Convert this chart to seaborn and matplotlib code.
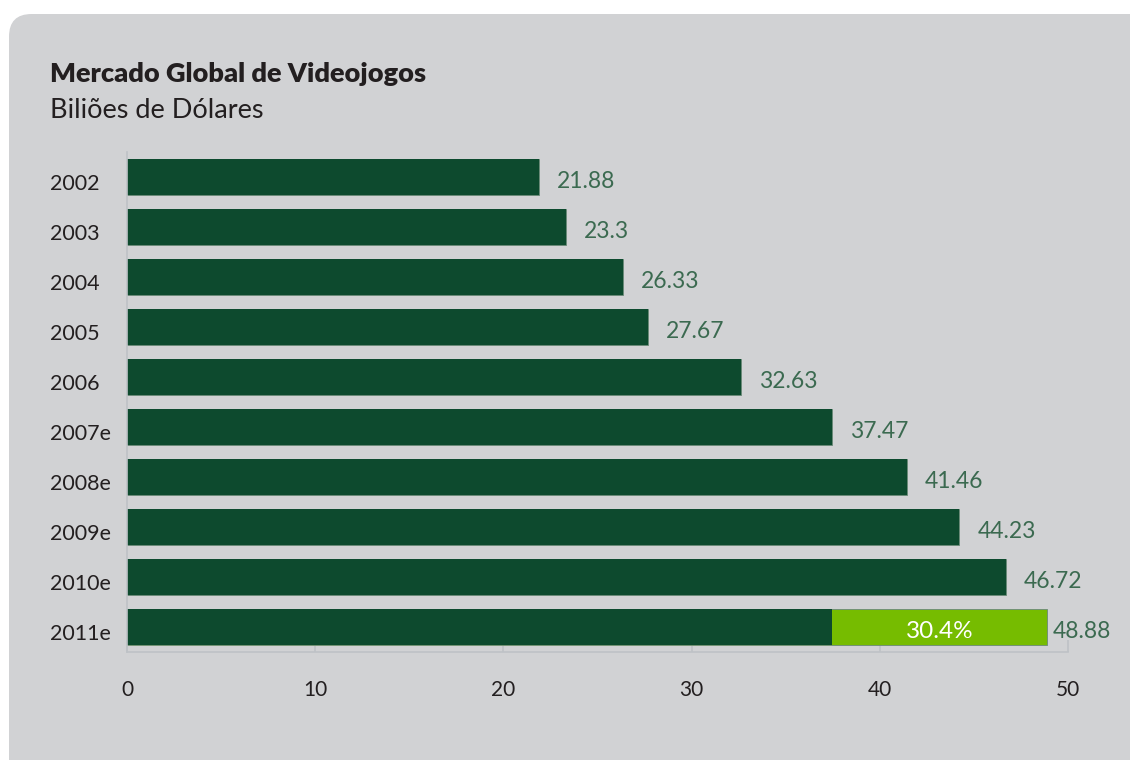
import matplotlib
matplotlib.use("Agg")
import matplotlib.pyplot as plt
from matplotlib.patches import FancyBboxPatch
from matplotlib.transforms import ScaledTranslation
import seaborn as sns
import pandas as pd

# Global video game market, billions of dollars
years = ["2002", "2003", "2004", "2005", "2006",
         "2007e", "2008e", "2009e", "2010e", "2011e"]
values = [21.88, 23.3, 26.33, 27.67, 32.63,
          37.47, 41.46, 44.23, 46.72, 48.88]
growth_from = "2007e"        # growth 2007e -> 2011e shown on the last bar
growth_label = "30.4%"
x_ticks = [0, 10, 20, 30, 40, 50]

DARK = "#0d4a2e"
LIGHT = "#76bc00"
PANEL = "#d1d2d4"
VALUE_TXT = "#3b6a50"
INK = "#231f20"
AXIS = "#bec2c6"

sns.set_theme(style="white")
plt.rcParams["font.family"] = ["Lato", "DejaVu Sans"]

base = values[years.index(growth_from)]
df = pd.DataFrame({"year": years, "value": values})
df["dark"] = [v if y != years[-1] else base for y, v in zip(years, values)]

fig = plt.figure(figsize=(11.3, 7.6), dpi=100)
fig.patch.set_facecolor("white")

# rounded grey panel, only its top-left corner falls inside the canvas
W, H = 1130, 760
panel = FancyBboxPatch((9 / W, -0.05), 1.2, (H - 14) / H + 0.05,
                       boxstyle="round,pad=0,rounding_size=0.02",
                       transform=fig.transFigure, facecolor=PANEL,
                       edgecolor="none", zorder=-10,
                       mutation_aspect=W / H)
fig.patches.append(panel)

ax = fig.add_axes([127 / W, 108 / H, (1068 - 127) / W, 500 / H])
ax.set_zorder(5)
ax.set_facecolor("none")

# full totals: the last bar in light green (growth segment)
sns.barplot(data=df, x="value", y="year", hue="year", orient="h",
            palette=[DARK] * (len(years) - 1) + [LIGHT], saturation=1,
            width=0.72, legend=False, ax=ax,
            edgecolor="#6a8a77", linewidth=0.6)
# dark part on top (last bar capped at the 2007e level)
sns.barplot(data=df, x="dark", y="year", orient="h", color=DARK,
            saturation=1, width=0.72, ax=ax, edgecolor="none", linewidth=0)

ax.set_xlim(0, 50)
ax.set_ylim(len(years) - 0.5, -0.5)
ax.set_xticks(x_ticks)
ax.set_xlabel("")
ax.set_ylabel("")

# text sits slightly below the bar centre line
drop = ScaledTranslation(0, -4.5 / 100, fig.dpi_scale_trans)

for i, v in enumerate(values):
    gap = 0.95 if i < len(values) - 1 else 0.3   # last label hugs the edge
    ax.text(v + gap, i, f"{v:g}", va="center", ha="left",
            fontsize=16.5, color=VALUE_TXT, transform=ax.transData + drop)

ax.text((base + values[-1]) / 2, len(years) - 1, growth_label,
        ha="center", va="center", fontsize=17.5, color="white",
        transform=ax.transData + drop)

for side in ("top", "right"):
    ax.spines[side].set_visible(False)
for side in ("left", "bottom"):
    ax.spines[side].set_color(AXIS)
    ax.spines[side].set_linewidth(1.2)

ax.tick_params(axis="x", direction="in", length=9, width=1.2, color=AXIS,
               pad=20, labelsize=15, labelcolor=INK, bottom=True)
ax.tick_params(axis="y", length=0, pad=55.5, labelsize=15.5, labelcolor=INK)
for lab in ax.get_yticklabels():
    lab.set_horizontalalignment("left")
    lab.set_transform(lab.get_transform() + drop)

fig.text(50 / W, 1 - 82 / H, "Mercado Global de Videojogos",
         fontsize=19.5, fontweight="heavy", color=INK, va="baseline")
fig.text(50 / W, 1 - 118 / H, "Biliões de Dólares",
         fontsize=19.5, color=INK, va="baseline")

fig.savefig("out.png", dpi=100, facecolor=fig.get_facecolor())
